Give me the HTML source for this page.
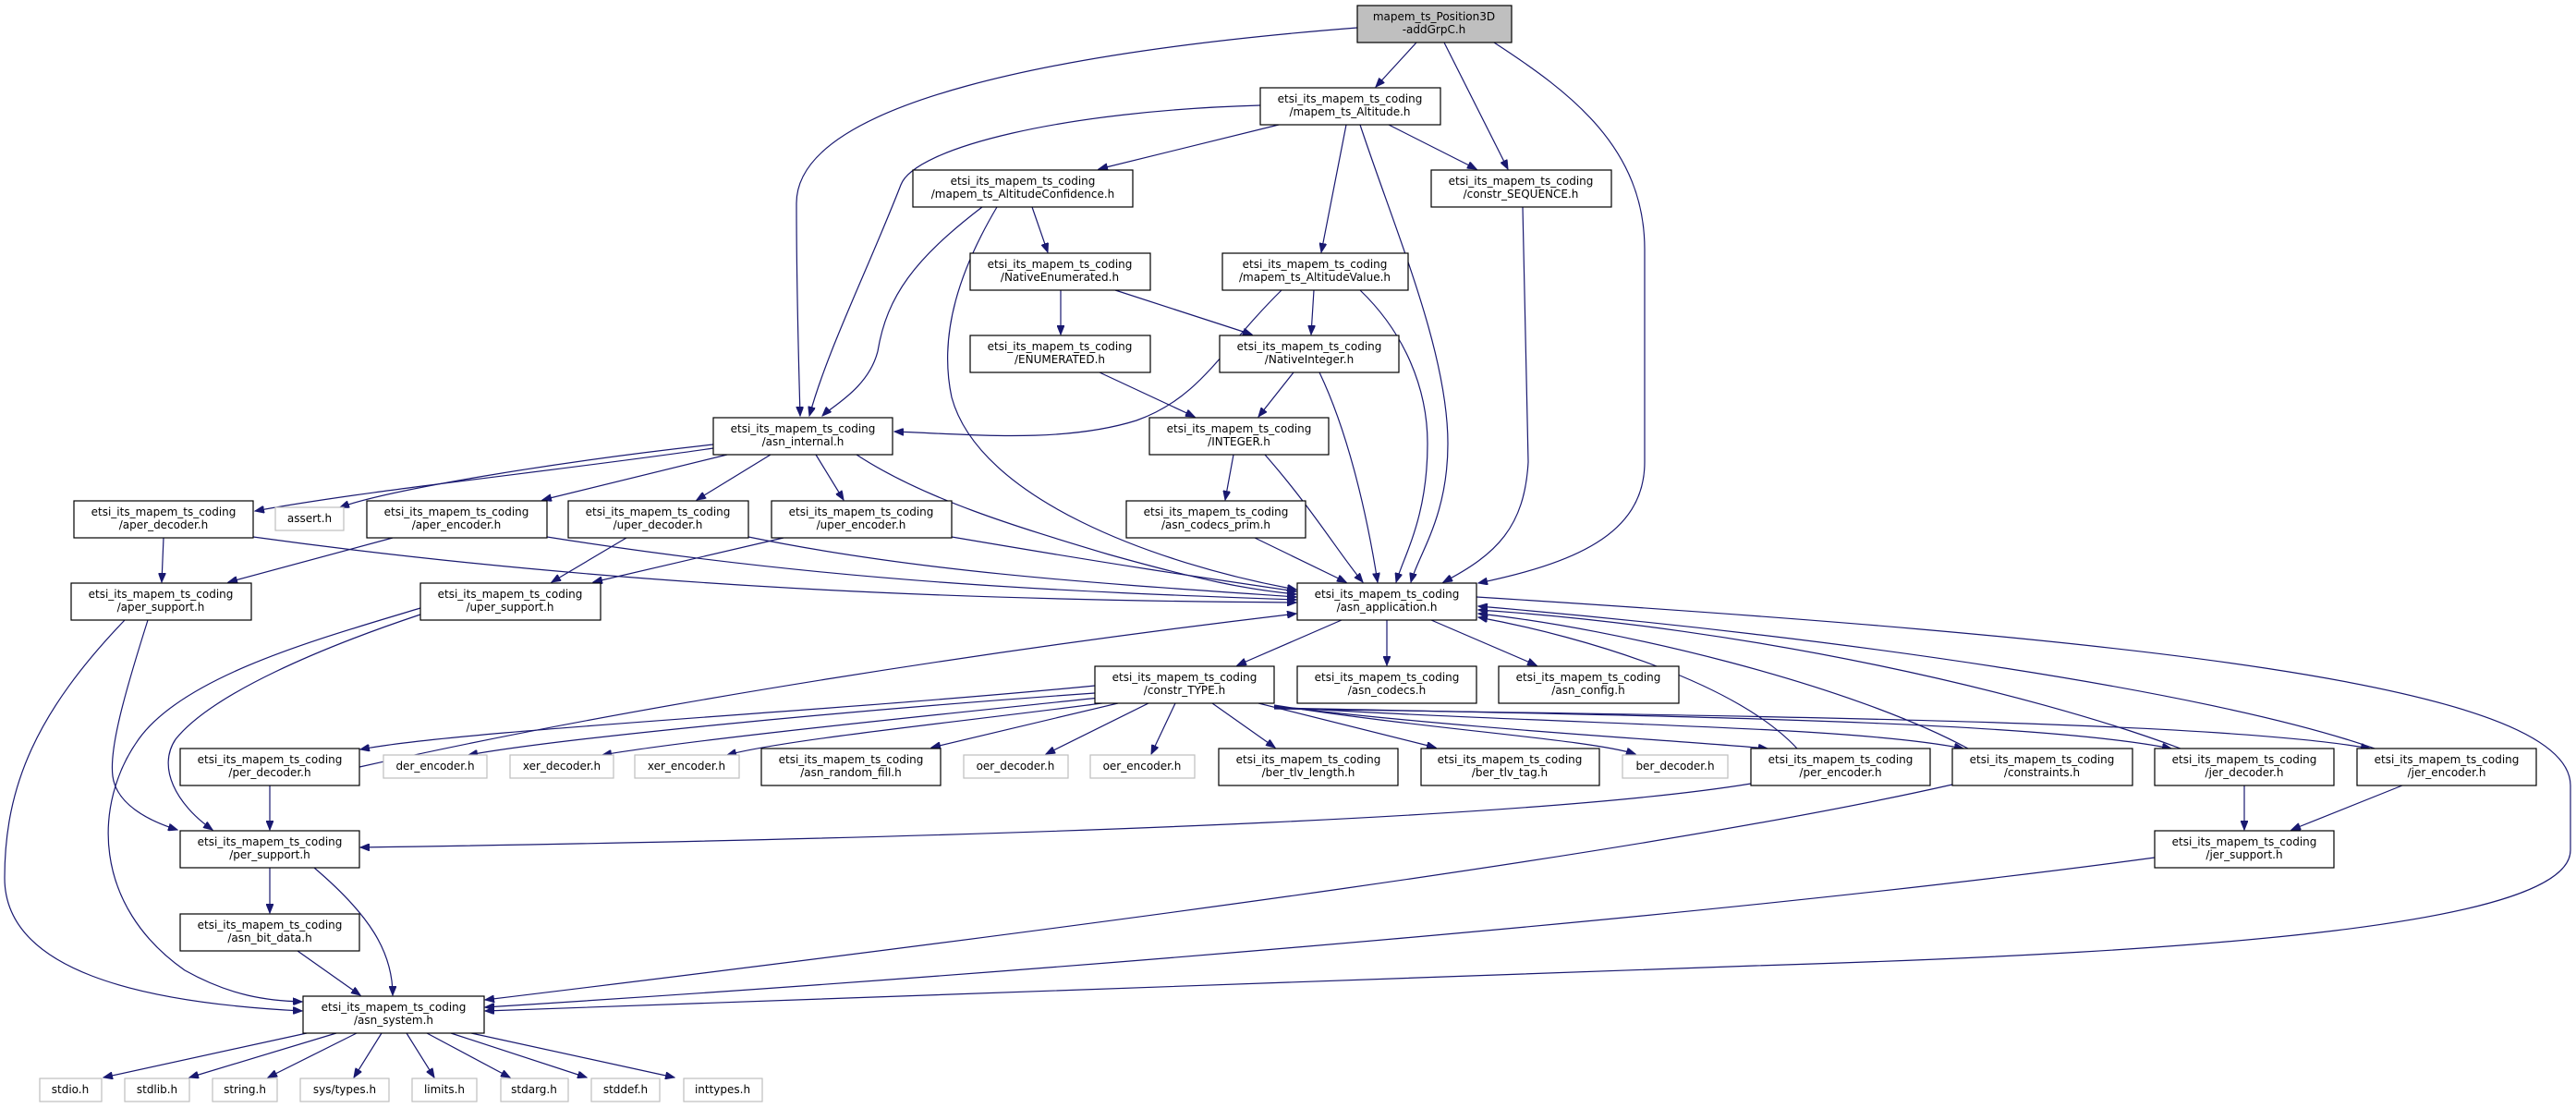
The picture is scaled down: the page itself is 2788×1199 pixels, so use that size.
<!DOCTYPE html>
<html><head><meta charset="utf-8"><style>
html,body{margin:0;padding:0;background:#fff;}
svg{display:block;}
text{font-family:"DejaVu Sans","Liberation Sans",sans-serif;font-size:12px;fill:#000;text-anchor:middle;}
.n{fill:#fff;stroke:#000;stroke-width:1.2;}
.g{fill:#fff;stroke:#bfbfbf;stroke-width:1.2;}
.r{fill:#bfbfbf;stroke:#000;stroke-width:1.2;}
path.e{fill:none;stroke:#191970;stroke-width:1.2;marker-end:url(#a);}
</style></head><body>
<svg width="2788" height="1199" viewBox="0 0 2788 1199" xmlns="http://www.w3.org/2000/svg">
<defs><marker id="a" markerUnits="userSpaceOnUse" markerWidth="11" markerHeight="8" refX="10" refY="4" orient="auto"><path d="M0,0 L10,4 L0,8 z" fill="#191970" stroke="#191970"/></marker></defs>

<!-- edges -->
<path class="e" d="M1469,30 C1150,55 862,110 862,220 C862,300 864,380 866,450"/>
<path class="e" d="M1533,46 L1489,94"/>
<path class="e" d="M1563,46 L1632,183"/>
<path class="e" d="M1617,46 C1700,100 1780,160 1780,270 L1780,500 C1780,580 1700,610 1600,631"/>
<path class="e" d="M1364,114 C1150,120 990,160 975,200 C940,290 895,380 876,450"/>
<path class="e" d="M1384,135 L1189,183"/>
<path class="e" d="M1457,135 L1430,273"/>
<path class="e" d="M1503,135 L1598,183"/>
<path class="e" d="M1472,135 C1510,250 1567,380 1567,480 C1567,560 1535,600 1527,630"/>
<path class="e" d="M1063,224 C990,280 960,320 950,380 C940,420 900,440 890,450"/>
<path class="e" d="M1079,224 C1040,290 1015,360 1030,430 C1060,540 1250,610 1403,638"/>
<path class="e" d="M1117,224 L1134,273"/>
<path class="e" d="M1648,224 L1654,500 C1650,570 1620,600 1562,630"/>
<path class="e" d="M1148,314 L1148,362"/>
<path class="e" d="M1207,314 L1355,362"/>
<path class="e" d="M1422,314 L1419,362"/>
<path class="e" d="M1387,314 C1320,380 1300,430 1230,455 C1150,480 1050,470 968,467"/>
<path class="e" d="M1472,314 C1520,360 1545,420 1545,480 C1545,560 1520,600 1511,630"/>
<path class="e" d="M1190,403 L1293,451"/>
<path class="e" d="M1400,403 L1362,451"/>
<path class="e" d="M1428,403 C1460,470 1480,560 1491,630"/>
<path class="e" d="M1335,492 L1326,541"/>
<path class="e" d="M1369,492 C1420,550 1450,600 1475,630"/>
<path class="e" d="M1358,582 L1457,630"/>
<path class="e" d="M772,485 C600,510 400,530 276,553"/>
<path class="e" d="M772,481 C600,500 420,530 368,549"/>
<path class="e" d="M787,492 L587,541"/>
<path class="e" d="M834,492 L754,541"/>
<path class="e" d="M883,492 L913,541"/>
<path class="e" d="M927,492 C1000,540 1100,570 1200,600 C1300,628 1350,638 1403,643"/>
<path class="e" d="M274,581 C700,640 1100,650 1403,652"/>
<path class="e" d="M592,581 C900,630 1150,640 1403,649"/>
<path class="e" d="M810,581 C1000,620 1200,632 1403,646"/>
<path class="e" d="M1030,581 C1200,610 1300,625 1403,640"/>
<path class="e" d="M177,582 L175,630"/>
<path class="e" d="M425,582 L247,630"/>
<path class="e" d="M678,582 L597,630"/>
<path class="e" d="M848,582 L642,630"/>
<path class="e" d="M135,671 C40,770 5,850 5,950 C5,1050 150,1085 327,1094"/>
<path class="e" d="M160,671 C135,750 118,810 122,840 C126,870 160,888 192,898"/>
<path class="e" d="M455,658 C350,690 200,730 150,800 C100,870 100,980 200,1050 C250,1078 290,1083 327,1084"/>
<path class="e" d="M455,665 C350,700 230,750 190,800 C170,830 190,870 230,898"/>
<path class="e" d="M1452,671 L1339,720"/>
<path class="e" d="M1501,671 L1501,720"/>
<path class="e" d="M1549,671 L1663,720"/>
<path class="e" d="M1598,646 C2300,690 2782,740 2782,850 L2782,920 C2782,1000 2400,1030 1900,1045 C1300,1065 800,1085 525,1094"/>
<path class="e" d="M1185,742 C900,770 500,790 390,811"/>
<path class="e" d="M1185,750 C900,770 600,800 507,817"/>
<path class="e" d="M1190,755 C1000,775 750,800 652,817"/>
<path class="e" d="M1200,760 C1050,780 850,800 787,817"/>
<path class="e" d="M1210,761 L1008,809"/>
<path class="e" d="M1243,761 L1132,816"/>
<path class="e" d="M1272,761 L1246,816"/>
<path class="e" d="M1312,761 L1380,809"/>
<path class="e" d="M1362,761 L1554,809"/>
<path class="e" d="M1379,763 C1550,790 1720,800 1770,816"/>
<path class="e" d="M1379,764 C1600,790 1800,800 1913,810"/>
<path class="e" d="M1379,765 C1700,785 2000,785 2125,810"/>
<path class="e" d="M1379,766 C1800,775 2200,780 2350,810"/>
<path class="e" d="M1379,767 C1900,775 2400,780 2565,810"/>
<path class="e" d="M389,830 C700,760 1100,700 1403,664"/>
<path class="e" d="M1945,810 C1880,740 1720,690 1600,668"/>
<path class="e" d="M2130,810 C2000,740 1750,680 1600,664"/>
<path class="e" d="M2360,810 C2200,750 1900,680 1600,660"/>
<path class="e" d="M2570,810 C2400,750 2000,690 1600,656"/>
<path class="e" d="M292,850 L292,898"/>
<path class="e" d="M1895,848 C1700,880 1200,905 390,917"/>
<path class="e" d="M2113,849 C1800,920 1200,1000 525,1082"/>
<path class="e" d="M2332,928 C1800,1000 1000,1060 525,1090"/>
<path class="e" d="M2429,850 L2429,898"/>
<path class="e" d="M2600,850 L2480,898"/>
<path class="e" d="M292,939 L292,988"/>
<path class="e" d="M340,939 C400,990 425,1030 425,1077"/>
<path class="e" d="M322,1029 L390,1077"/>
<path class="e" d="M332,1118 L112,1166"/>
<path class="e" d="M364,1118 L205,1166"/>
<path class="e" d="M386,1118 L290,1166"/>
<path class="e" d="M413,1118 L383,1166"/>
<path class="e" d="M440,1118 L470,1166"/>
<path class="e" d="M462,1118 L552,1166"/>
<path class="e" d="M488,1118 L635,1166"/>
<path class="e" d="M510,1118 L730,1166"/>

<!-- nodes -->
<rect class="r" x="1469" y="6" width="167" height="40"/><text x="1552" y="22">mapem_ts_Position3D</text><text x="1552" y="36">-addGrpC.h</text>
<rect class="n" x="1364" y="95" width="195" height="40"/><text x="1461" y="111">etsi_its_mapem_ts_coding</text><text x="1461" y="125">/mapem_ts_Altitude.h</text>
<rect class="n" x="988" y="184" width="238" height="40"/><text x="1107" y="200">etsi_its_mapem_ts_coding</text><text x="1107" y="214">/mapem_ts_AltitudeConfidence.h</text>
<rect class="n" x="1549" y="184" width="195" height="40"/><text x="1646" y="200">etsi_its_mapem_ts_coding</text><text x="1646" y="214">/constr_SEQUENCE.h</text>
<rect class="n" x="1050" y="274" width="195" height="40"/><text x="1147" y="290">etsi_its_mapem_ts_coding</text><text x="1147" y="304">/NativeEnumerated.h</text>
<rect class="n" x="1323" y="274" width="201" height="40"/><text x="1423" y="290">etsi_its_mapem_ts_coding</text><text x="1423" y="304">/mapem_ts_AltitudeValue.h</text>
<rect class="n" x="1050" y="363" width="195" height="40"/><text x="1147" y="379">etsi_its_mapem_ts_coding</text><text x="1147" y="393">/ENUMERATED.h</text>
<rect class="n" x="1320" y="363" width="194" height="40"/><text x="1417" y="379">etsi_its_mapem_ts_coding</text><text x="1417" y="393">/NativeInteger.h</text>
<rect class="n" x="772" y="452" width="194" height="40"/><text x="869" y="468">etsi_its_mapem_ts_coding</text><text x="869" y="482">/asn_internal.h</text>
<rect class="n" x="1244" y="452" width="194" height="40"/><text x="1341" y="468">etsi_its_mapem_ts_coding</text><text x="1341" y="482">/INTEGER.h</text>
<rect class="n" x="80" y="542" width="194" height="40"/><text x="177" y="558">etsi_its_mapem_ts_coding</text><text x="177" y="572">/aper_decoder.h</text>
<rect class="g" x="298" y="549" width="74" height="25"/><text x="335" y="565">assert.h</text>
<rect class="n" x="397" y="542" width="195" height="40"/><text x="494" y="558">etsi_its_mapem_ts_coding</text><text x="494" y="572">/aper_encoder.h</text>
<rect class="n" x="615" y="542" width="195" height="40"/><text x="712" y="558">etsi_its_mapem_ts_coding</text><text x="712" y="572">/uper_decoder.h</text>
<rect class="n" x="835" y="542" width="195" height="40"/><text x="932" y="558">etsi_its_mapem_ts_coding</text><text x="932" y="572">/uper_encoder.h</text>
<rect class="n" x="1219" y="542" width="194" height="40"/><text x="1316" y="558">etsi_its_mapem_ts_coding</text><text x="1316" y="572">/asn_codecs_prim.h</text>
<rect class="n" x="77" y="631" width="195" height="40"/><text x="174" y="647">etsi_its_mapem_ts_coding</text><text x="174" y="661">/aper_support.h</text>
<rect class="n" x="455" y="631" width="195" height="40"/><text x="552" y="647">etsi_its_mapem_ts_coding</text><text x="552" y="661">/uper_support.h</text>
<rect class="n" x="1404" y="631" width="194" height="40"/><text x="1501" y="647">etsi_its_mapem_ts_coding</text><text x="1501" y="661">/asn_application.h</text>
<rect class="n" x="1185" y="721" width="194" height="40"/><text x="1282" y="737">etsi_its_mapem_ts_coding</text><text x="1282" y="751">/constr_TYPE.h</text>
<rect class="n" x="1404" y="721" width="194" height="40"/><text x="1501" y="737">etsi_its_mapem_ts_coding</text><text x="1501" y="751">/asn_codecs.h</text>
<rect class="n" x="1622" y="721" width="195" height="40"/><text x="1719" y="737">etsi_its_mapem_ts_coding</text><text x="1719" y="751">/asn_config.h</text>
<rect class="n" x="195" y="810" width="194" height="40"/><text x="292" y="826">etsi_its_mapem_ts_coding</text><text x="292" y="840">/per_decoder.h</text>
<rect class="g" x="415" y="817" width="112" height="25"/><text x="471" y="833">der_encoder.h</text>
<rect class="g" x="552" y="817" width="112" height="25"/><text x="608" y="833">xer_decoder.h</text>
<rect class="g" x="687" y="817" width="113" height="25"/><text x="743" y="833">xer_encoder.h</text>
<rect class="n" x="824" y="810" width="194" height="40"/><text x="921" y="826">etsi_its_mapem_ts_coding</text><text x="921" y="840">/asn_random_fill.h</text>
<rect class="g" x="1043" y="817" width="113" height="25"/><text x="1099" y="833">oer_decoder.h</text>
<rect class="g" x="1180" y="817" width="113" height="25"/><text x="1236" y="833">oer_encoder.h</text>
<rect class="n" x="1319" y="810" width="194" height="40"/><text x="1416" y="826">etsi_its_mapem_ts_coding</text><text x="1416" y="840">/ber_tlv_length.h</text>
<rect class="n" x="1538" y="810" width="193" height="40"/><text x="1634" y="826">etsi_its_mapem_ts_coding</text><text x="1634" y="840">/ber_tlv_tag.h</text>
<rect class="g" x="1756" y="817" width="114" height="25"/><text x="1813" y="833">ber_decoder.h</text>
<rect class="n" x="1895" y="810" width="194" height="40"/><text x="1992" y="826">etsi_its_mapem_ts_coding</text><text x="1992" y="840">/per_encoder.h</text>
<rect class="n" x="2113" y="810" width="195" height="40"/><text x="2210" y="826">etsi_its_mapem_ts_coding</text><text x="2210" y="840">/constraints.h</text>
<rect class="n" x="2332" y="810" width="194" height="40"/><text x="2429" y="826">etsi_its_mapem_ts_coding</text><text x="2429" y="840">/jer_decoder.h</text>
<rect class="n" x="2551" y="810" width="194" height="40"/><text x="2648" y="826">etsi_its_mapem_ts_coding</text><text x="2648" y="840">/jer_encoder.h</text>
<rect class="n" x="195" y="899" width="194" height="40"/><text x="292" y="915">etsi_its_mapem_ts_coding</text><text x="292" y="929">/per_support.h</text>
<rect class="n" x="2332" y="899" width="194" height="40"/><text x="2429" y="915">etsi_its_mapem_ts_coding</text><text x="2429" y="929">/jer_support.h</text>
<rect class="n" x="195" y="989" width="194" height="40"/><text x="292" y="1005">etsi_its_mapem_ts_coding</text><text x="292" y="1019">/asn_bit_data.h</text>
<rect class="n" x="328" y="1078" width="196" height="40"/><text x="426" y="1094">etsi_its_mapem_ts_coding</text><text x="426" y="1108">/asn_system.h</text>
<rect class="g" x="43" y="1167" width="67" height="25"/><text x="76" y="1183">stdio.h</text>
<rect class="g" x="135" y="1167" width="70" height="25"/><text x="170" y="1183">stdlib.h</text>
<rect class="g" x="230" y="1167" width="70" height="25"/><text x="265" y="1183">string.h</text>
<rect class="g" x="325" y="1167" width="96" height="25"/><text x="373" y="1183">sys/types.h</text>
<rect class="g" x="446" y="1167" width="70" height="25"/><text x="481" y="1183">limits.h</text>
<rect class="g" x="542" y="1167" width="73" height="25"/><text x="578" y="1183">stdarg.h</text>
<rect class="g" x="640" y="1167" width="74" height="25"/><text x="677" y="1183">stddef.h</text>
<rect class="g" x="740" y="1167" width="85" height="25"/><text x="782" y="1183">inttypes.h</text>
</svg>
</body></html>
